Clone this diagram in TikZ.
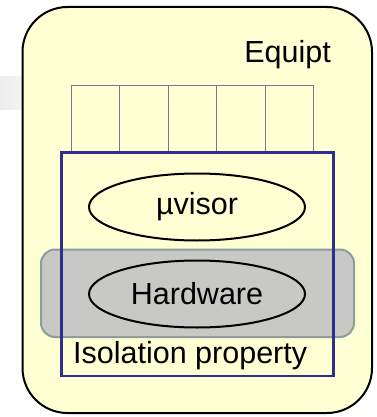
\documentclass[tikz,border=0pt]{standalone}
\usepackage{fontspec}
\setmainfont{Liberation Sans}
\usetikzlibrary{shapes,backgrounds,calc}
\definecolor{equipyellow}{RGB}{255,255,212}
\definecolor{isogray}{RGB}{200,200,196}
\definecolor{isoedge}{RGB}{140,158,156}
\definecolor{boxblue}{RGB}{46,46,140}
\definecolor{slotedge}{RGB}{120,120,150}
\tikzset{
	lbl/.style={font=\fontsize{30.5}{33}\selectfont, inner sep=0pt},
	oval/.style={ellipse, draw=black, line width=2pt, minimum width=216pt, minimum height=67pt, lbl}
}
\begin{document}
\begin{tikzpicture}[x=1pt, y=-1pt]
\useasboundingbox (0,0) rectangle (376,417);
\shade[left color=black!7, right color=white] (0,77) rectangle (60,110);
% outer box
\draw[fill=equipyellow, line width=2pt, rounded corners=45pt] (22.5,7) rectangle (372,413);
\node[lbl, anchor=base east](equipt) at (331,63){Equipt};
% slots
\foreach \i in {0,...,4}
	\draw[slotedge, line width=1pt] ({71+48.5*\i},86) rectangle ++(48.5,66.5);
\draw[fill=isogray, draw=isoedge, line width=2pt, rounded corners=14pt] (41,249.5) rectangle (354,337);
\draw[boxblue, line width=2.2pt] (61.5,152.5) rectangle (333.5,376);
\node[oval](uvisor) at (197,207){µvisor};
\node[oval](hw) at (197,294){Hardware};
\node[lbl, anchor=base west](iso) at (73,363){Isolation property};
\end{tikzpicture}
\end{document}
